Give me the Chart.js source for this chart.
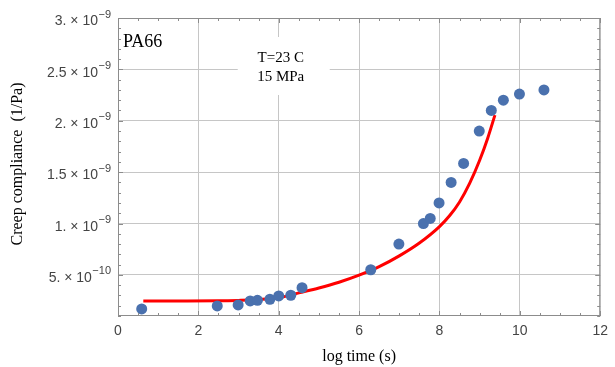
<!DOCTYPE html>
<html>
<head>
<meta charset="utf-8">
<script src="https://cdn.jsdelivr.net/npm/chart.js@4"></script>
<style>
  html, body { margin: 0; padding: 0; background: #fff; }
</style>
</head>
<body>
<canvas id="chart" width="615" height="367"></canvas>
<script>
// measured creep data (log time, compliance 1/Pa)
const logTime = [0.59, 2.47, 2.99, 3.29, 3.47, 3.78, 4.0, 4.3, 4.58, 6.29, 6.99, 7.6, 7.77, 7.99, 8.29, 8.6, 8.99, 9.29, 9.59, 9.99, 10.6];
const compliance = [1.69e-10, 1.98e-10, 2.08e-10, 2.47e-10, 2.53e-10, 2.63e-10, 2.95e-10, 3.02e-10, 3.76e-10, 5.5e-10, 8.0e-10, 1.0e-9, 1.05e-9, 1.2e-9, 1.4e-9, 1.585e-9, 1.9e-9, 2.1e-9, 2.2e-9, 2.26e-9, 2.3e-9];

// model curve
const fitTime = [0.63, 1.5, 2.5, 3.0, 3.5, 4.0, 4.5, 5.0, 5.5, 6.0, 6.5, 7.0, 7.5, 8.0, 8.25, 8.5, 8.75, 9.0, 9.2, 9.38];
const fitCompliance = [2.47e-10, 2.47e-10, 2.48e-10, 2.52e-10, 2.6e-10, 2.78e-10, 3.25e-10, 3.72e-10, 4.28e-10, 4.97e-10, 5.8e-10, 6.85e-10, 8.1e-10, 9.7e-10, 1.075e-9, 1.21e-9, 1.39e-9, 1.615e-9, 1.83e-9, 2.055e-9];

// axes
const xTicks = [0, 2, 4, 6, 8, 10, 12];
const yTicks = [5e-10, 1e-9, 1.5e-9, 2e-9, 2.5e-9, 3e-9];
const yMantissa = ['5.', '1.', '1.5', '2.', '2.5', '3.'];
const yExponent = ['\u221210', '\u22129', '\u22129', '\u22129', '\u22129', '\u22129'];

const sans = '"Liberation Sans", Arial, sans-serif';
const serif = '"Liberation Serif", "Times New Roman", serif';

// 邊框、次刻度、標籤
const decorations = {
  id: 'decorations',
  beforeDatasetsDraw(chart) {
    const ctx = chart.ctx;
    const x = chart.scales.x;
    // white box behind the annotation
    const cx = x.getPixelForValue(4);
    ctx.save();
    ctx.fillStyle = '#fff';
    ctx.fillRect(cx - 41, 37, 92, 58);
    ctx.restore();
  },
  afterDraw(chart) {
    const ctx = chart.ctx;
    const a = chart.chartArea;
    const x = chart.scales.x, y = chart.scales.y;
    ctx.save();

    // frame
    ctx.strokeStyle = '#8c8c8c';
    ctx.lineWidth = 1;
    ctx.strokeRect(a.left + 0.5, a.top + 0.5, a.right - a.left - 1, a.bottom - a.top - 1);

    // ticks on all four sides
    ctx.beginPath();
    for (let v = 0; v <= 12.001; v += 0.5) {
      const px = Math.round(x.getPixelForValue(v)) + 0.5;
      const len = (Math.abs(v % 2) < 0.01) ? 5 : 3;
      ctx.moveTo(px, a.bottom); ctx.lineTo(px, a.bottom - len);
      ctx.moveTo(px, a.top); ctx.lineTo(px, a.top + len);
    }
    for (let i = 1; i <= 30; i++) {
      const v = i * 1e-10;
      const py = Math.round(y.getPixelForValue(v)) + 0.5;
      const len = (i % 5 === 0) ? 5 : 3;
      ctx.moveTo(a.left, py); ctx.lineTo(a.left + len, py);
      ctx.moveTo(a.right, py); ctx.lineTo(a.right - len, py);
    }
    ctx.stroke();

    // y tick labels with superscript exponent
    ctx.fillStyle = '#444';
    ctx.textAlign = 'right';
    ctx.textBaseline = 'middle';
    yTicks.forEach((v, i) => {
      const py = y.getPixelForValue(v);
      const right = a.left - 7;
      ctx.font = '11px ' + sans;
      const supW = ctx.measureText(yExponent[i]).width;
      ctx.fillText(yExponent[i], right, py - 3.5);
      ctx.font = '14px ' + sans;
      ctx.fillText(yMantissa[i] + ' \u00d7 10', right - supW - 0.5, py + 3.5);
    });

    // axis titles
    ctx.fillStyle = '#000';
    ctx.textAlign = 'center';
    ctx.font = '16px ' + serif;
    ctx.fillText('log time (s)', x.getPixelForValue(6), 357);
    ctx.save();
    ctx.translate(18, 164);
    ctx.rotate(-Math.PI / 2);
    ctx.fillText('Creep compliance  (1/Pa)', 0, 0);
    ctx.restore();

    // annotations
    ctx.font = '18px ' + serif;
    ctx.textAlign = 'left';
    ctx.fillText('PA66', a.left + 5, 42);
    ctx.font = '15px ' + serif;
    ctx.textAlign = 'center';
    const cx = x.getPixelForValue(4) + 2;
    ctx.fillText('T=23 C', cx, 58);
    ctx.fillText('15 MPa', cx, 77);

    ctx.restore();
  }
};

new Chart(document.getElementById('chart'), {
  type: 'scatter',
  data: {
    datasets: [{
      label: 'data',
      data: logTime.map((t, i) => ({ x: t, y: compliance[i] })),
      backgroundColor: '#4a71ae',
      borderColor: '#4a71ae',
      pointRadius: 5.5,
      borderWidth: 0,
    }, {
      label: 'fit',
      data: fitTime.map((t, i) => ({ x: t, y: fitCompliance[i] })),
      showLine: true,
      borderColor: '#ff0000',
      borderWidth: 3,
      pointRadius: 0,
      cubicInterpolationMode: 'monotone',
      fill: false,
    }]
  },
  options: {
    responsive: false,
    animation: false,
    layout: { padding: { left: 0, top: 18, right: 14, bottom: 0 } },
    plugins: { legend: { display: false }, tooltip: { enabled: false } },
    scales: {
      x: {
        type: 'linear',
        min: 0, max: 12,
        afterBuildTicks: s => { s.ticks = xTicks.map(v => ({ value: v })); },
        afterFit: s => { s.height = 51; },
        grid: { color: '#c6c6c6', drawTicks: false },
        border: { display: false },
        ticks: {
          padding: 7,
          color: '#444',
          font: { family: sans, size: 14 },
          callback: v => String(v),
        }
      },
      y: {
        type: 'linear',
        min: 1e-10, max: 3e-9,
        afterBuildTicks: s => { s.ticks = yTicks.map(v => ({ value: v })); },
        afterFit: s => { s.width = 118; },
        grid: { color: '#c6c6c6', drawTicks: false },
        border: { display: false },
        ticks: { display: false }
      }
    }
  },
  plugins: [decorations]
});
</script>
</body>
</html>
